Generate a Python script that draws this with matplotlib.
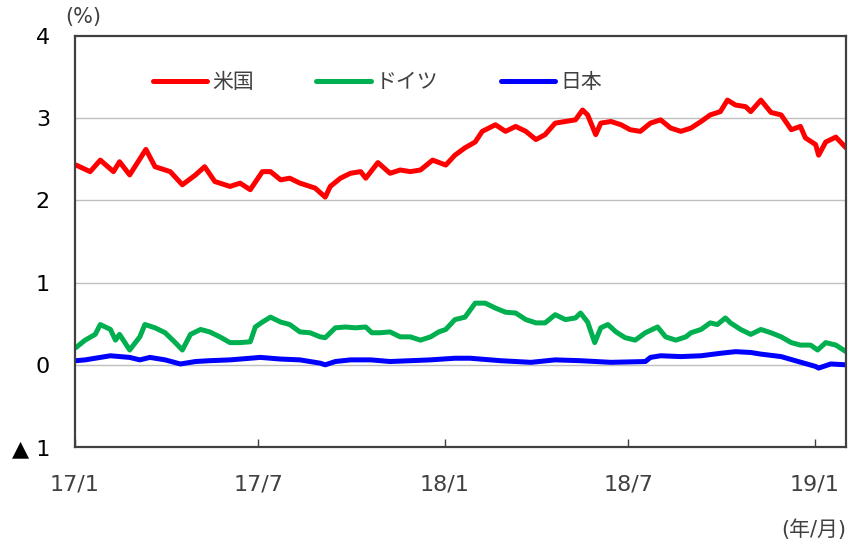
"""10-year government bond yields: US, Germany, Japan (2017/1 - 2019/1)."""
import matplotlib
matplotlib.use("Agg")
import matplotlib.pyplot as plt
import matplotlib.dates as mdates
import pandas as pd

plt.rcParams['font.family'] = ['DejaVu Sans', 'Noto Sans CJK JP']

# values (%)
us_dates = ['2017-01-02', '2017-01-16', '2017-01-26', '2017-02-08', '2017-02-14', '2017-02-24',
            '2017-03-12', '2017-03-21', '2017-04-05', '2017-04-17', '2017-04-30', '2017-05-09',
            '2017-05-19', '2017-06-03', '2017-06-13', '2017-06-23', '2017-07-05', '2017-07-13',
            '2017-07-23', '2017-08-01', '2017-08-11', '2017-08-26', '2017-09-05', '2017-09-10',
            '2017-09-20', '2017-09-30', '2017-10-10', '2017-10-15', '2017-10-27', '2017-11-08',
            '2017-11-18', '2017-11-28', '2017-12-08', '2017-12-20', '2018-01-02', '2018-01-11',
            '2018-01-21', '2018-01-31', '2018-02-07', '2018-02-20', '2018-03-02', '2018-03-12',
            '2018-03-22', '2018-04-01', '2018-04-10', '2018-04-20', '2018-04-30', '2018-05-10',
            '2018-05-17', '2018-05-22', '2018-05-30', '2018-06-04', '2018-06-14', '2018-06-24',
            '2018-07-03', '2018-07-13', '2018-07-23', '2018-08-02', '2018-08-12', '2018-08-22',
            '2018-09-01', '2018-09-11', '2018-09-20', '2018-09-30', '2018-10-07', '2018-10-15',
            '2018-10-25', '2018-10-30', '2018-11-09', '2018-11-19', '2018-11-29', '2018-12-09',
            '2018-12-18', '2018-12-23', '2019-01-02', '2019-01-05', '2019-01-12', '2019-01-22',
            '2019-02-01']
us_yield = [2.43, 2.35, 2.49, 2.35, 2.47, 2.31,
            2.62, 2.41, 2.35, 2.19, 2.31, 2.41,
            2.23, 2.17, 2.21, 2.13, 2.35, 2.35,
            2.25, 2.27, 2.21, 2.15, 2.04, 2.17,
            2.27, 2.33, 2.35, 2.27, 2.46, 2.33,
            2.37, 2.35, 2.37, 2.49, 2.43, 2.55,
            2.64, 2.71, 2.84, 2.92, 2.84, 2.90,
            2.84, 2.74, 2.80, 2.94, 2.96, 2.98,
            3.10, 3.04, 2.80, 2.94, 2.96, 2.92,
            2.86, 2.84, 2.94, 2.98, 2.88, 2.84,
            2.88, 2.96, 3.04, 3.08, 3.22, 3.16,
            3.14, 3.08, 3.22, 3.07, 3.04, 2.86,
            2.90, 2.76, 2.68, 2.55, 2.71, 2.77,
            2.64]

de_dates = ['2017-01-02', '2017-01-11', '2017-01-21', '2017-01-26', '2017-02-05', '2017-02-10',
            '2017-02-14', '2017-02-24', '2017-03-06', '2017-03-11', '2017-03-21', '2017-03-31',
            '2017-04-10', '2017-04-17', '2017-04-25', '2017-05-05', '2017-05-14', '2017-05-24',
            '2017-06-03', '2017-06-13', '2017-06-23', '2017-06-28', '2017-07-05', '2017-07-13',
            '2017-07-23', '2017-08-01', '2017-08-11', '2017-08-21', '2017-08-31', '2017-09-05',
            '2017-09-15', '2017-09-25', '2017-10-05', '2017-10-15', '2017-10-21', '2017-10-29',
            '2017-11-08', '2017-11-18', '2017-11-28', '2017-12-08', '2017-12-18', '2017-12-26',
            '2018-01-02', '2018-01-11', '2018-01-21', '2018-01-31', '2018-02-10', '2018-02-20',
            '2018-03-02', '2018-03-12', '2018-03-22', '2018-04-01', '2018-04-10', '2018-04-20',
            '2018-04-30', '2018-05-10', '2018-05-15', '2018-05-22', '2018-05-29', '2018-06-04',
            '2018-06-11', '2018-06-19', '2018-06-28', '2018-07-08', '2018-07-18', '2018-07-30',
            '2018-08-07', '2018-08-17', '2018-08-27', '2018-09-01', '2018-09-11', '2018-09-20',
            '2018-09-27', '2018-10-05', '2018-10-10', '2018-10-20', '2018-10-30', '2018-11-09',
            '2018-11-19', '2018-11-29', '2018-12-09', '2018-12-18', '2018-12-28', '2019-01-04',
            '2019-01-12', '2019-01-22', '2019-02-01']
de_yield = [0.21, 0.30, 0.37, 0.49, 0.43, 0.30,
            0.37, 0.18, 0.34, 0.49, 0.45, 0.39,
            0.27, 0.18, 0.37, 0.43, 0.40, 0.34,
            0.27, 0.27, 0.28, 0.46, 0.52, 0.58,
            0.52, 0.49, 0.40, 0.39, 0.34, 0.33,
            0.45, 0.46, 0.45, 0.46, 0.39, 0.39,
            0.40, 0.34, 0.34, 0.30, 0.34, 0.40,
            0.43, 0.55, 0.58, 0.75, 0.75, 0.69,
            0.64, 0.63, 0.55, 0.51, 0.51, 0.61,
            0.55, 0.57, 0.63, 0.52, 0.27, 0.45,
            0.49, 0.40, 0.33, 0.30, 0.39, 0.46,
            0.34, 0.30, 0.34, 0.39, 0.43, 0.51,
            0.49, 0.57, 0.51, 0.43, 0.37, 0.43,
            0.39, 0.34, 0.27, 0.24, 0.24, 0.18,
            0.27, 0.24, 0.16]

jp_dates = ['2017-01-02', '2017-01-11', '2017-01-26', '2017-02-05', '2017-02-24', '2017-03-06',
            '2017-03-16', '2017-03-31', '2017-04-15', '2017-04-30', '2017-05-14', '2017-06-03',
            '2017-07-03', '2017-07-23', '2017-08-11', '2017-08-31', '2017-09-05', '2017-09-15',
            '2017-09-30', '2017-10-20', '2017-11-08', '2017-11-28', '2017-12-18', '2018-01-11',
            '2018-01-26', '2018-02-05', '2018-02-25', '2018-03-27', '2018-04-20', '2018-05-15',
            '2018-06-14', '2018-07-18', '2018-07-23', '2018-08-02', '2018-08-22', '2018-09-11',
            '2018-09-30', '2018-10-15', '2018-10-30', '2018-11-09', '2018-11-29', '2018-12-13',
            '2019-01-02', '2019-01-05', '2019-01-17', '2019-02-01']
jp_yield = [0.05, 0.06, 0.09, 0.11, 0.09, 0.06,
            0.09, 0.06, 0.01, 0.04, 0.05, 0.06,
            0.09, 0.07, 0.06, 0.02, 0.00, 0.04,
            0.06, 0.06, 0.04, 0.05, 0.06, 0.08,
            0.08, 0.07, 0.05, 0.03, 0.06, 0.05,
            0.03, 0.04, 0.09, 0.11, 0.10, 0.11,
            0.14, 0.16, 0.15, 0.13, 0.10, 0.05,
            -0.02, -0.04, 0.01, 0.00]

series = [('米国', us_dates, us_yield, '#FF0000'),
          ('ドイツ', de_dates, de_yield, '#00B050'),
          ('日本', jp_dates, jp_yield, '#0000FF')]

y_ticks = [-1, 0, 1, 2, 3, 4]
y_labels = ['▲ 1', '0', '1', '2', '3', '4']
x_ticks = ['2017-01-01', '2017-07-01', '2018-01-01', '2018-07-01', '2019-01-01']
x_labels = ['17/1', '17/7', '18/1', '18/7', '19/1']

text_col = '#404040'
fig = plt.figure(figsize=(8.51, 5.52), dpi=100)
ax = fig.add_axes([0.0881, 0.1902, 0.906, 0.7446])

for name, d, v, c in series:
    ax.plot(pd.to_datetime(d), v, color=c, lw=3.6, label=name,
            solid_joinstyle='round', solid_capstyle='round')

ax.set_xlim(pd.Timestamp('2017-01-01'), pd.Timestamp('2019-02-01'))
ax.set_ylim(-1, 4)
ax.set_yticks(y_ticks)
ax.set_yticklabels(y_labels)
ax.set_xticks(pd.to_datetime(x_ticks))
ax.set_xticklabels(x_labels)

ax.tick_params(axis='y', length=0, pad=18, labelsize=16, labelcolor='black')
ax.tick_params(axis='x', direction='in', length=6, width=1, color=text_col,
               pad=20, labelsize=16, labelcolor=text_col)

for y in [0, 1, 2, 3]:
    ax.axhline(y, color='#BFBFBF', lw=1, zorder=0)
for s in ax.spines.values():
    s.set_color(text_col)
    s.set_linewidth(1.6)

leg = ax.legend(loc='center left', bbox_to_anchor=(0.101, 0.888), ncol=3, frameon=False,
                fontsize=15, handlelength=2.6, handletextpad=0.25, columnspacing=3.0,
                borderpad=0, borderaxespad=0)
for t in leg.get_texts():
    t.set_color(text_col)

fig.text(83 / 851, 1 - 17 / 552, '(%)', fontsize=15, color=text_col, ha='center', va='center')
fig.text(846 / 851, 1 - 530 / 552, '(年/月)', fontsize=15, color=text_col, ha='right', va='center')

fig.savefig('out.png', dpi=100)
